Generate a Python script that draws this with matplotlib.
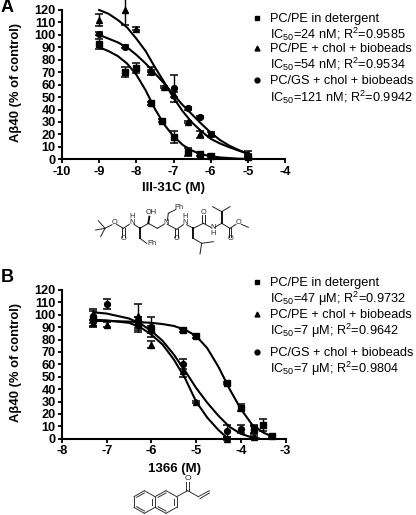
#!/usr/bin/python
import matplotlib as mpl
mpl.use('Agg')
import matplotlib.pyplot as plt

plt.rcParams['font.family'] = ['Liberation Sans', 'DejaVu Sans']
plt.rcParams['mathtext.default'] = 'regular'

W = 416.0
H = 515.0

# panel A, III-31C
a_x_sq = [-9, -8.3, -8, -7.6, -7.3, -7, -6.6, -6.3, -6, -5]
a_y_sq = [93, 70, 73, 45, 31, 18, 6, 4, 3, 2]
a_e_sq = [4, 4, 4, 1, 1, 5, 3, 1, 1.5, 1]
a_x_tr = [-9, -8.3, -8, -7.6, -7.25, -7, -6.6, -6.3, -5]
a_y_tr = [112, 120, 105, 72, 58, 52, 30, 20, 4]
a_e_tr = [5, 12, 1, 2, 1, 2, 1, 3, 3]
a_x_ci = [-9, -8.3, -7.6, -7, -6.6, -6.3, -6, -5]
a_y_ci = [101, 90.5, 70, 57, 41, 34, 20, 3]
a_e_ci = [1, 1, 2, 11, 1, 1, 2, 1]

a_fit_x = [-9, -8.75, -8.5, -8.25, -8, -7.75, -7.5, -7.25, -7, -6.75, -6.5, -6.25, -6, -5.75, -5.5, -5.25, -5]
a_fit_sq = [90, 87, 83, 77, 68, 55.5, 40.5, 28, 18.5, 11.5, 7, 4, 2.5, 1.5, 1, 0.5, 0.3]
a_fit_tr = [120, 117, 112, 106, 97, 87, 74, 62, 49.5, 38.5, 29.5, 22.5, 16.5, 12.7, 9.7, 7, 4.5]
a_fit_ci = [100, 97, 94, 90, 84, 77, 69, 61, 52, 43.5, 36, 28.5, 21.5, 15.5, 11, 7.5, 4.5]

# panel B, 1366
b_x_sq = [-7.3, -6.3, -6, -5.3, -5, -4.3, -4, -3.7, -3.5, -3.3]
b_y_sq = [97, 93, 88, 87.5, 82.5, 45, 25, 8, 11, 2]
b_e_sq = [6, 5, 3, 1, 1, 1, 3, 3, 5, 1]
b_x_tr = [-7.3, -7, -6.3, -6, -5.3, -5, -4.3, -3.7]
b_y_tr = [93, 92, 99, 76, 55, 29.5, 0, 1]
b_e_tr = [3, 2, 10, 3, 5, 1, 1, 1]
b_x_ci = [-7.3, -7, -6.3, -6, -5.3, -4.3, -4, -3.7]
b_y_ci = [99, 109, 92, 90, 60, 6, 8, 7]
b_e_ci = [6, 4, 6, 8, 4, 5, 3, 3]

b_fit_x_sq = [-7.3, -7, -6.5, -6, -5.75, -5.5, -5.25, -5, -4.75, -4.5, -4.25, -4, -3.75, -3.5, -3.25]
b_fit_sq = [95, 95, 94.5, 93.5, 92.5, 91, 88, 83, 73, 58, 40, 24, 11.5, 5, 1]
b_fit_x_tr = [-7.3, -7, -6.5, -6.25, -6, -5.75, -5.5, -5.25, -5, -4.75, -4.5, -4.3]
b_fit_tr = [96, 95.5, 93.5, 90, 84, 76, 64, 49, 30, 17, 7, 0.5]
b_fit_x_ci = [-7.3, -7, -6.5, -6.25, -6, -5.75, -5.5, -5.25, -5, -4.75, -4.5, -4.25, -4, -3.75, -3.6]
b_fit_ci = [102, 101, 97, 93, 87, 79, 68, 55, 41, 29, 18.5, 9.5, 4, 1, 0.3]

a_legend = ['PC/PE in detergent', 'IC$_{50}$=24 nM; R$^{2}$=0.9585',
            'PC/PE + chol + biobeads', 'IC$_{50}$=54 nM; R$^{2}$=0.9534',
            'PC/GS + chol + biobeads', 'IC$_{50}$=121 nM; R$^{2}$=0.9942']
b_legend = ['PC/PE in detergent', 'IC$_{50}$=47 \u03bcM; R$^{2}$=0.9732',
            'PC/PE + chol + biobeads', 'IC$_{50}$=7 \u03bcM; R$^{2}$=0.9642',
            'PC/GS + chol + biobeads', 'IC$_{50}$=7 \u03bcM; R$^{2}$=0.9804']

y_ticks = list(range(0, 130, 10))
a_x_ticks = [-10, -9, -8, -7, -6, -5, -4]
b_x_ticks = [-8, -7, -6, -5, -4, -3]

# structures, in 3x zoom pixels of the picture
boc_bonds = [
    (225, 115, 205, 92), (225, 115, 197, 120), (225, 115, 212, 140), (225, 115, 246, 104),
    (260, 103, 280, 115), (276, 115, 276, 140), (284, 115, 284, 140), (280, 115, 298, 103),
    (312, 103, 330, 115), (330, 145, 350, 160), (330, 115, 355, 100),
    (355, 100, 382, 115), (382, 115, 402, 103), (412, 92, 415, 70), (415, 70, 438, 58),
    (412, 103, 440, 118), (436, 118, 436, 140), (444, 118, 444, 140), (440, 118, 460, 104),
    (470, 104, 490, 115), (490, 115, 520, 100), (516, 100, 516, 76), (524, 100, 524, 76),
    (520, 100, 543, 112), (490, 145, 515, 160), (515, 160, 550, 155),
    (515, 160, 510, 192), (554, 112, 575, 100), (575, 100, 600, 115), (596, 115, 596, 140),
    (604, 115, 604, 140), (600, 115, 618, 103), (634, 103, 655, 112),
    (575, 65, 548, 50), (575, 65, 600, 50),
]
boc_wedges = [(575, 100, 575, 65), (355, 100, 358, 80), (330, 115, 330, 145), (490, 115, 490, 145)]
boc_labels = [(253, 98, 'O'), (280, 147, 'O'), (305, 88, 'H\nN'), (365, 68, 'OH'),
              (365, 161, 'Ph'), (408, 97, 'N'), (447, 52, 'Ph'), (440, 147, 'O'), (465, 90, 'H\nN'),
              (520, 68, 'O'), (548, 122, 'N\nH'), (600, 147, 'O'),
              (627, 97, 'O')]
naph_bonds = [
    (132, 140, 163, 122), (163, 122, 195, 140), (195, 140, 195, 172), (195, 172, 163, 190),
    (163, 190, 132, 172), (132, 172, 132, 140), (195, 140, 228, 122), (228, 122, 260, 140),
    (260, 140, 260, 172), (260, 172, 228, 190), (228, 190, 195, 172), (260, 140, 293, 122),
    (289, 122, 289, 95), (297, 122, 297, 95), (293, 122, 325, 140), (325, 140, 358, 122),
    (140, 142, 163, 129), (140, 170, 163, 183), (187, 146, 187, 166), (204, 142, 228, 129),
    (204, 170, 228, 183), (252, 146, 252, 166), (330, 146, 358, 129),
]


def panel_axes(fig, left, right, top, bottom):
    return fig.add_axes([left / W, 1 - bottom / H, (right - left) / W, (bottom - top) / H])


def draw_panel(ax, xlim, x_ticks, pts, fits):
    ax.set_xlim(xlim)
    ax.set_ylim(0, 120)
    for (x, y, e, m) in pts:
        ax.errorbar(x, y, yerr=e, fmt=m, color='black', ms=4.2, capsize=3, elinewidth=1,
                    capthick=1.1, clip_on=False, zorder=4)
    for (x, y) in fits:
        ax.plot(x, y, color='black', linewidth=1.5, clip_on=False, zorder=3)
    ax.spines['top'].set_visible(False)
    ax.spines['right'].set_visible(False)
    ax.spines['left'].set_linewidth(1.5)
    ax.spines['bottom'].set_linewidth(1.5)
    ax.set_xticks(x_ticks)
    ax.set_yticks(y_ticks)
    ax.set_xticklabels([str(t) for t in x_ticks])
    ax.tick_params(axis='both', direction='out', length=3, width=1.3, labelsize=9.2, pad=1.5)
    for t in ax.get_xticklabels() + ax.get_yticklabels():
        t.set_fontweight('bold')


fig = plt.figure(figsize=(W / 100, H / 100))

ax_a = panel_axes(fig, 62, 285, 10, 159.3)
draw_panel(ax_a, (-10, -4), a_x_ticks,
           [(a_x_sq, a_y_sq, a_e_sq, 's'), (a_x_tr, a_y_tr, a_e_tr, '^'), (a_x_ci, a_y_ci, a_e_ci, 'o')],
           [(a_fit_x, a_fit_sq), (a_fit_x, a_fit_tr), (a_fit_x, a_fit_ci)])

ax_b = panel_axes(fig, 62, 285.5, 290, 438.7)
draw_panel(ax_b, (-8, -3), b_x_ticks,
           [(b_x_sq, b_y_sq, b_e_sq, 's'), (b_x_tr, b_y_tr, b_e_tr, '^'), (b_x_ci, b_y_ci, b_e_ci, 'o')],
           [(b_fit_x_sq, b_fit_sq), (b_fit_x_tr, b_fit_tr), (b_fit_x_ci, b_fit_ci)])

# everything else is placed in picture pixels
over = fig.add_axes([0, 0, 1, 1])
over.axis('off')
over.patch.set_alpha(0)

over.text(1, 8, 'A', fontsize=13, fontweight='bold', va='center', ha='left')
over.text(1, 278, 'B', fontsize=13, fontweight='bold', va='center', ha='left')
over.text(16, 83, 'A\u03b240 (% of control)', fontsize=9.4, fontweight='bold', rotation=90, va='center', ha='center')
over.text(16, 363, 'A\u03b240 (% of control)', fontsize=9.4, fontweight='bold', rotation=90, va='center', ha='center')
over.text(173, 188, 'III-31C (M)', fontsize=9.5, fontweight='bold', va='center', ha='center')
over.text(174, 469, '1366 (M)', fontsize=9.5, fontweight='bold', va='center', ha='center')

a_rows = [18.7, 34.3, 49, 64, 81, 97]
b_rows = [283, 299, 315, 331, 353, 369]
for rows, labels in ((a_rows, a_legend), (b_rows, b_legend)):
    for y, s in zip(rows, labels):
        over.text(270, y, s, fontsize=9.2, va='center', ha='left')
    for y, m in zip(rows[0::2], ['s', '^', 'o']):
        over.plot([257], [y - 1], m, color='black', ms=3.5)

for (x0, y0, x1, y1) in boc_bonds:
    over.plot([30 + x0 / 3.0, 30 + x1 / 3.0], [190 + y0 / 3.0, 190 + y1 / 3.0], color='#222222', lw=0.7)
for (x0, y0, x1, y1) in boc_wedges:
    over.plot([30 + x0 / 3.0, 30 + x1 / 3.0], [190 + y0 / 3.0, 190 + y1 / 3.0], color='black', lw=1.3)
for (x, y, s) in boc_labels:
    over.text(30 + x / 3.0, 190 + y / 3.0, s, fontsize=5.3, color='#222222', va='center', ha='center', linespacing=0.8)

for (x0, y0, x1, y1) in naph_bonds:
    over.plot([90 + x0 / 3.0, 90 + x1 / 3.0], [450 + y0 / 3.0, 450 + y1 / 3.0], color='#333333', lw=0.7)
over.text(90 + 293 / 3.0, 450 + 85 / 3.0, 'O', fontsize=6, color='#222222', va='center', ha='center')

over.set_xlim(0, W)
over.set_ylim(H, 0)

plt.savefig('out.png', dpi=100)
